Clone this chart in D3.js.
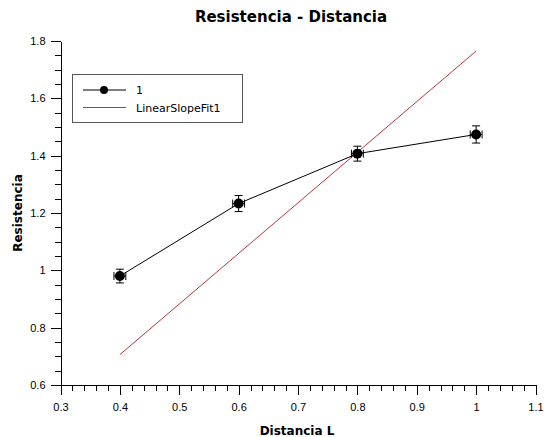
<!DOCTYPE html>
<html lang="en">
<head>
<meta charset="utf-8">
<title>Resistencia - Distancia</title>
<script src="https://cdn.jsdelivr.net/npm/d3@7"></script>
<style>
  body { margin: 0; background: #fff; }
  svg { display: block; font-family: "DejaVu Sans", Verdana, sans-serif; }
  .axis path, .axis line { stroke: #000; shape-rendering: crispEdges; }
  .axis text { font-size: 11px; fill: #000; }
</style>
</head>
<body>
<script>
// data
var distancia = [0.4, 0.6, 0.8, 1.0];
var resistencia = [0.98, 1.233, 1.407, 1.474];
var errY = [0.024, 0.028, 0.026, 0.030];
var errX = [0.01, 0.01, 0.01, 0.01];
var fitSlope = 1.765;           // LinearSlopeFit1: y = k * x
var fitRange = [0.4, 1.0];
var xTicks = [0.3, 0.4, 0.5, 0.6, 0.7, 0.8, 0.9, 1, 1.1];
var yTicks = [0.6, 0.8, 1, 1.2, 1.4, 1.6, 1.8];
var legendLabels = ["1", "LinearSlopeFit1"];

var w = 544, h = 437;
var svg = d3.select("body").append("svg").attr("width", w).attr("height", h);

var x = d3.scaleLinear().domain([0.3, 1.1]).range([60.5, 535.5]);
var y = d3.scaleLinear().domain([0.6, 1.8]).range([385, 41]);

// minor ticks
var xMinor = d3.range(0.3, 1.1001, 0.02).map(function(v) { return +v.toFixed(2); });
var yMinor = d3.range(0.6, 1.8001, 0.05).map(function(v) { return +v.toFixed(2); });

svg.append("g").attr("class", "axis")
  .attr("transform", "translate(0,385)")
  .call(d3.axisBottom(x).tickValues(xMinor).tickSize(6).tickFormat("").tickSizeOuter(0));
svg.append("g").attr("class", "axis")
  .attr("transform", "translate(0,385)")
  .call(d3.axisBottom(x).tickValues(xTicks).tickSize(10).tickPadding(8).tickSizeOuter(0)
    .tickFormat(function(d) { return String(d); }));

svg.append("g").attr("class", "axis")
  .attr("transform", "translate(60.5,0)")
  .call(d3.axisLeft(y).tickValues(yMinor).tickSize(6).tickFormat("").tickSizeOuter(0));
svg.append("g").attr("class", "axis")
  .attr("transform", "translate(60.5,0)")
  .call(d3.axisLeft(y).tickValues(yTicks).tickSize(10).tickPadding(5).tickSizeOuter(0)
    .tickFormat(function(d) { return String(d); }));

// title and axis labels
svg.append("text").attr("x", 291).attr("y", 22).attr("text-anchor", "middle")
  .attr("font-size", "15px").attr("font-weight", "bold").text("Resistencia - Distancia");
svg.append("text").attr("x", 297).attr("y", 435).attr("text-anchor", "middle")
  .attr("font-size", "12px").attr("font-weight", "bold").text("Distancia L");
svg.append("text").attr("transform", "translate(22,213) rotate(-90)").attr("text-anchor", "middle")
  .attr("font-size", "12px").attr("font-weight", "bold").text("Resistencia");

// fit line
svg.append("line")
  .attr("x1", x(fitRange[0])).attr("y1", y(fitSlope * fitRange[0]))
  .attr("x2", x(fitRange[1])).attr("y2", y(fitSlope * fitRange[1]))
  .attr("stroke", "#b8363a").attr("stroke-width", 1);

// data line
var line = d3.line()
  .x(function(d, i) { return x(distancia[i]); })
  .y(function(d) { return y(d); });
svg.append("path").datum(resistencia).attr("d", line)
  .attr("fill", "none").attr("stroke", "#000").attr("stroke-width", 1);

// error bars
var eb = svg.append("g").attr("stroke", "#000").attr("stroke-width", 1);
distancia.forEach(function(d, i) {
  var cx = x(d), cy = y(resistencia[i]);
  var y0 = y(resistencia[i] - errY[i]), y1 = y(resistencia[i] + errY[i]);
  var x0 = x(d - errX[i]), x1 = x(d + errX[i]);
  eb.append("line").attr("x1", cx).attr("x2", cx).attr("y1", y0).attr("y2", y1);
  eb.append("line").attr("x1", cx - 4).attr("x2", cx + 4).attr("y1", y0).attr("y2", y0);
  eb.append("line").attr("x1", cx - 4).attr("x2", cx + 4).attr("y1", y1).attr("y2", y1);
  eb.append("line").attr("x1", x0).attr("x2", x1).attr("y1", cy).attr("y2", cy);
  eb.append("line").attr("x1", x0).attr("x2", x0).attr("y1", cy - 4).attr("y2", cy + 4);
  eb.append("line").attr("x1", x1).attr("x2", x1).attr("y1", cy - 4).attr("y2", cy + 4);
});

svg.selectAll("circle.pt").data(resistencia).enter().append("circle")
  .attr("class", "pt")
  .attr("cx", function(d, i) { return x(distancia[i]); })
  .attr("cy", function(d) { return y(d); })
  .attr("r", 5).attr("fill", "#000");

// legend
var lg = svg.append("g");
lg.append("rect").attr("x", 72.5).attr("y", 74.5).attr("width", 170).attr("height", 48)
  .attr("fill", "#fff").attr("stroke", "#555");
lg.append("line").attr("x1", 83).attr("x2", 126).attr("y1", 90).attr("y2", 90).attr("stroke", "#000");
lg.append("circle").attr("cx", 104).attr("cy", 90).attr("r", 4).attr("fill", "#000");
lg.append("line").attr("x1", 83).attr("x2", 126).attr("y1", 107.5).attr("y2", 107.5).attr("stroke", "#b8363a");
lg.selectAll("text").data(legendLabels).enter().append("text")
  .attr("x", 136).attr("y", function(d, i) { return 94 + i * 17.5; })
  .attr("font-size", "11px").text(function(d) { return d; });
</script>
</body>
</html>
